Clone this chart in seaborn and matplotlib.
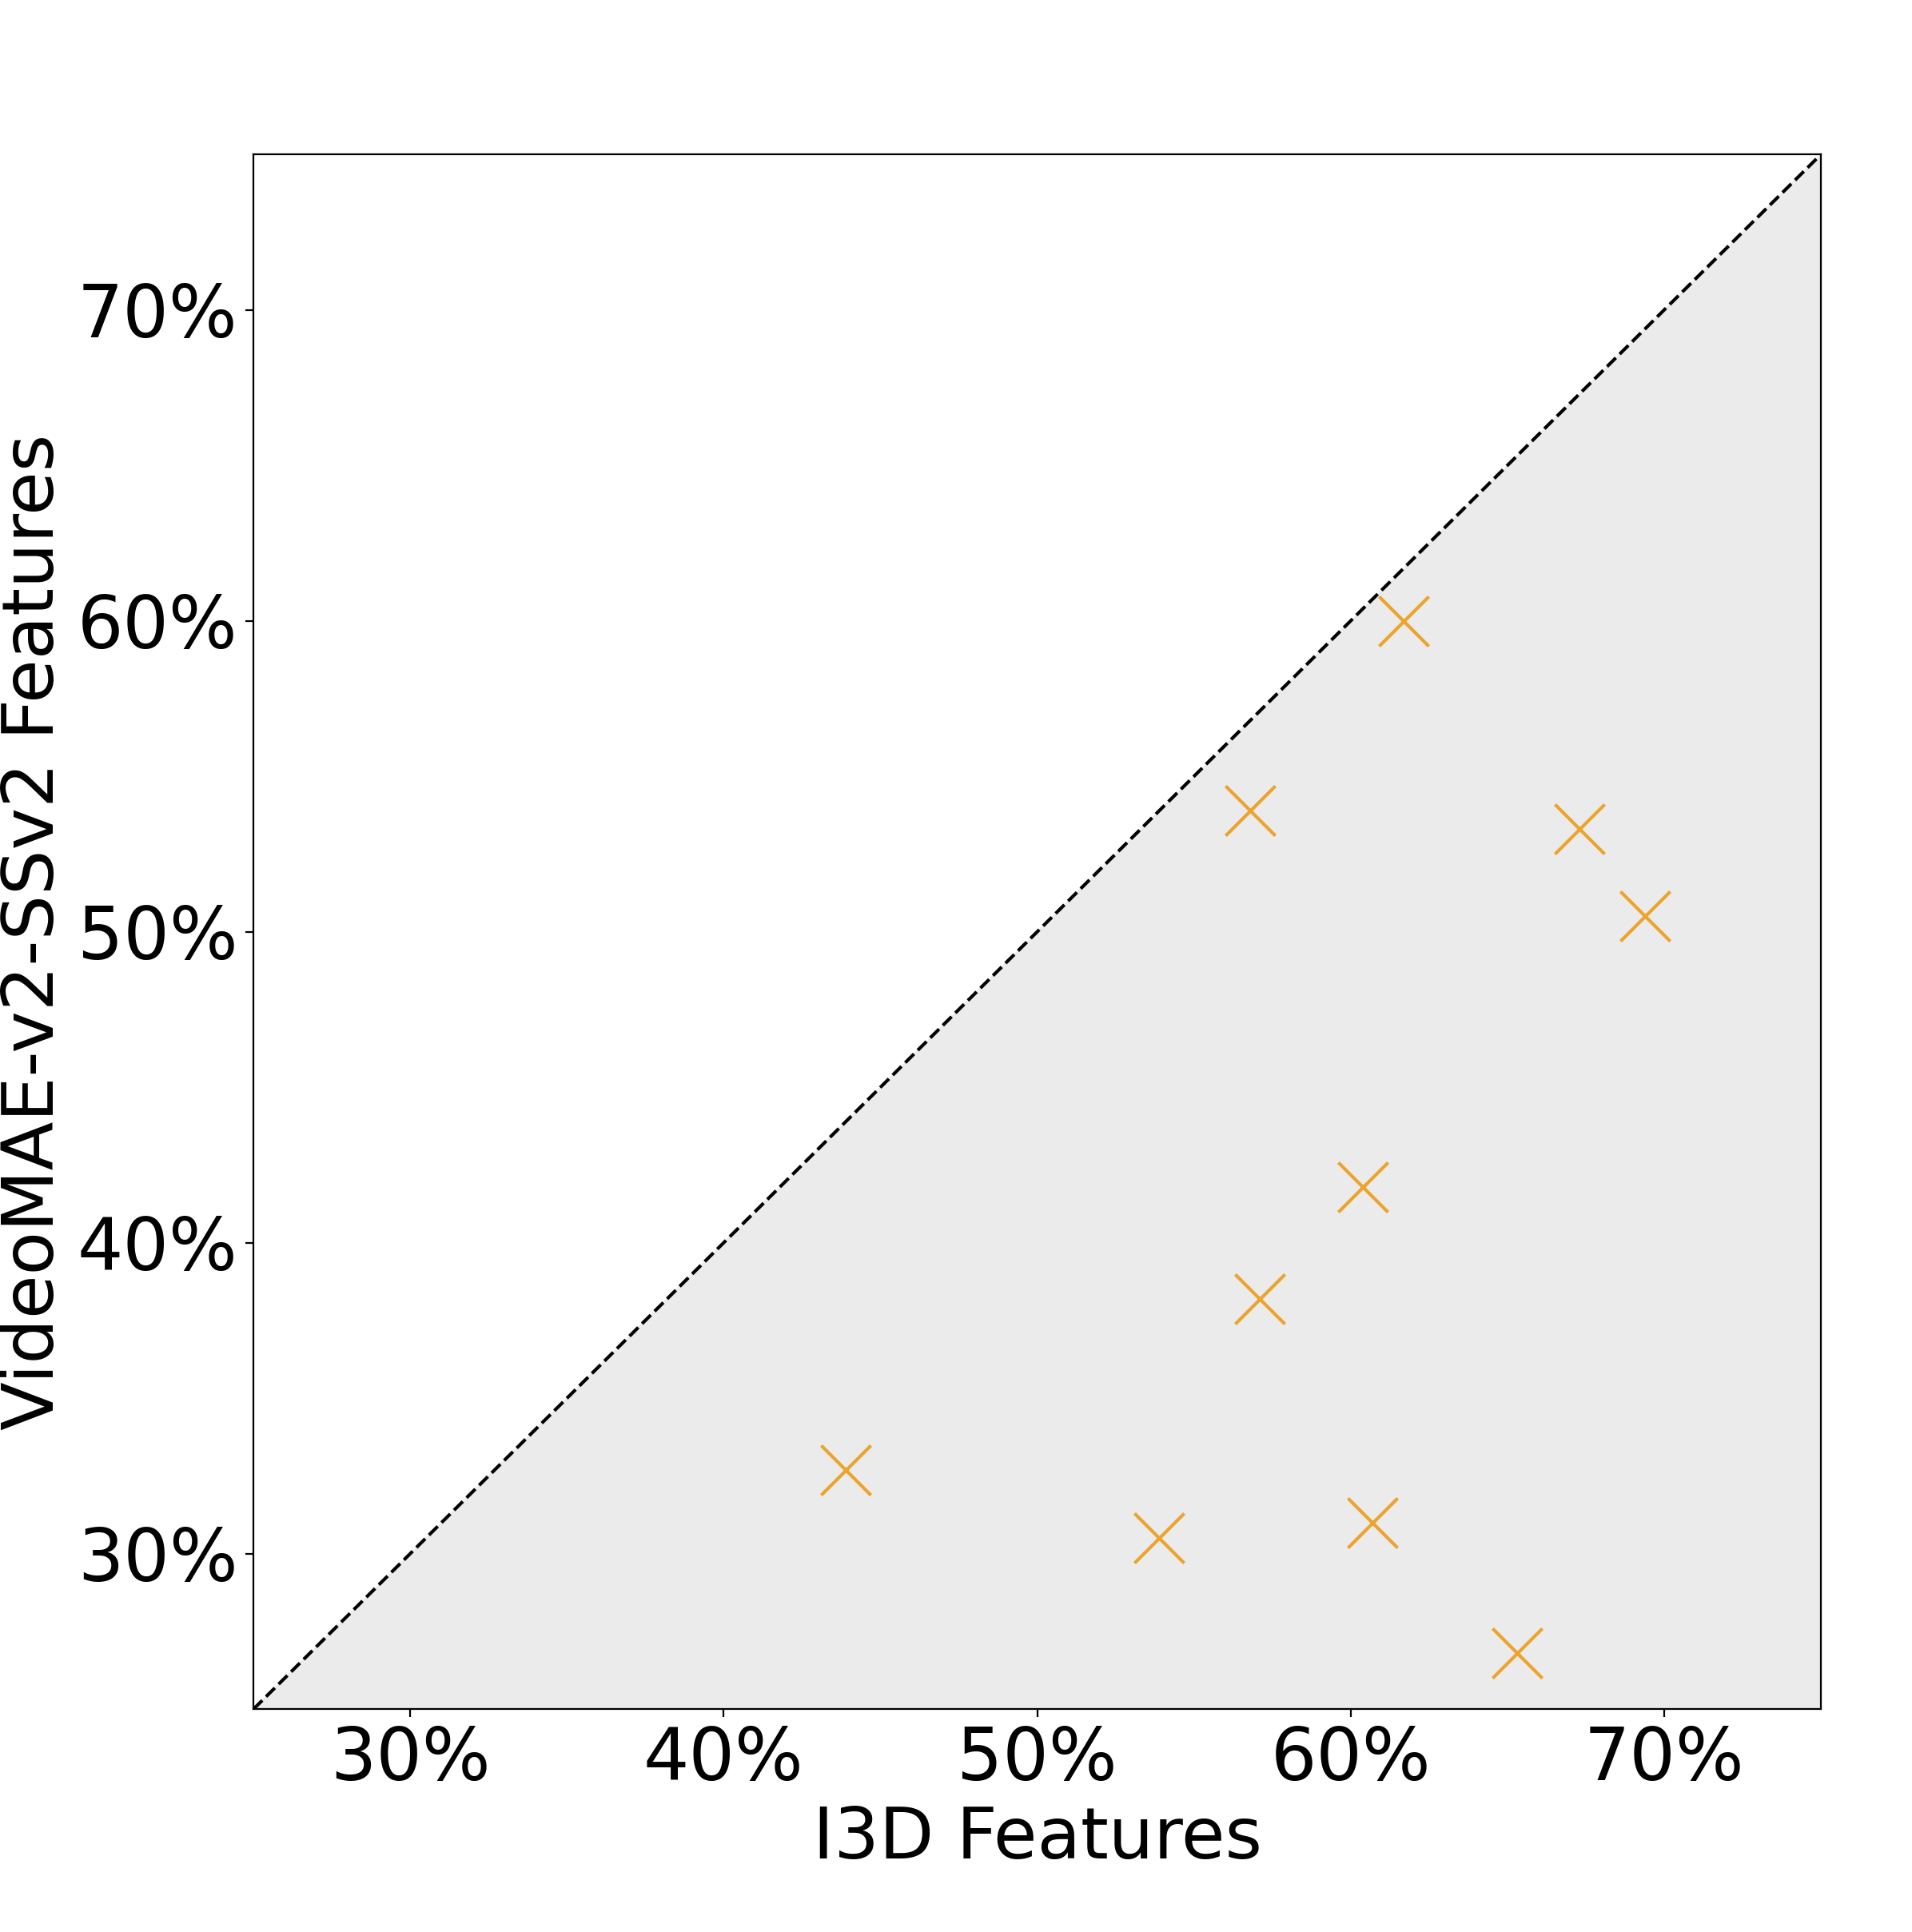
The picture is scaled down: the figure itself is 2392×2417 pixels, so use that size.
import numpy as np
import pandas as pd
import seaborn as sns
import matplotlib
matplotlib.use("Agg")
import matplotlib.pyplot as plt
from matplotlib.ticker import PercentFormatter

# accuracy per class, I3D vs VideoMAE-v2-SSv2 features (in %)
i3d = [61.7, 56.8, 67.3, 69.4, 60.4, 57.1, 43.9, 53.9, 60.7, 65.3]
videomae = [60.0, 53.9, 53.3, 50.5, 41.8, 38.2, 32.7, 30.5, 31.0, 26.8]
ticks = [30, 40, 50, 60, 70]
lims = [25, 75]

frame = pd.DataFrame({"i3d": i3d, "videomae": videomae})

sns.set_style("ticks", rc={"axes.edgecolor": "black", "axes.linewidth": 1.0,
                           "xtick.color": "black", "ytick.color": "black",
                           "axes.labelcolor": "black", "text.color": "black"})
plt.rcParams["font.family"] = ["DejaVu Sans"]

fig = plt.figure(figsize=(11.96, 12.085), dpi=200)
ax = fig.add_axes([0.1326, 0.1154, 0.8197, 0.8046])

diag = np.array(lims)
ax.fill_between(diag, lims[0], diag, color="#ebebeb", zorder=0)
ax.plot(diag, diag, ls="--", color="black", lw=1.5, zorder=1)

sns.scatterplot(data=frame, x="i3d", y="videomae", marker="x", s=500,
                color="#eba42e", linewidth=1.5, ax=ax, zorder=3)

ax.set_xlim(lims)
ax.set_ylim(lims)
ax.set_xticks(ticks)
ax.set_yticks(ticks)
ax.xaxis.set_major_formatter(PercentFormatter(decimals=0))
ax.yaxis.set_major_formatter(PercentFormatter(decimals=0))
ax.tick_params(labelsize=32.5)
ax.set_xlabel("I3D Features", fontsize=32, labelpad=4)
ax.set_ylabel("VideoMAE-v2-SSv2 Features", fontsize=32, labelpad=4)

fig.savefig("out.png", dpi=200, facecolor="white")
